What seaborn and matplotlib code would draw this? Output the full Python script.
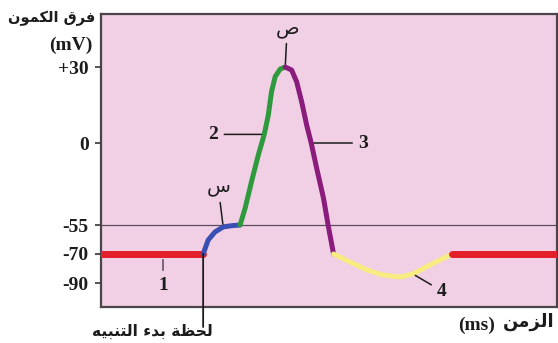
import numpy as np
import seaborn as sns
import matplotlib.pyplot as plt

# action potential (time in ms, potential in mV)
rest1_t = [0.0, 2.24]
rest1_v = [-70, -70]
depol_t = [2.24, 2.35, 2.50, 2.68, 2.85, 3.05]          # س : threshold
depol_v = [-70, -62.8, -58.6, -56.0, -55.4, -55.0]
rise_t = [3.05, 3.16, 3.30, 3.45, 3.58, 3.67, 3.74, 3.82, 3.93, 4.04]   # 2
rise_v = [-55, -43.8, -26.0, -8.0, 3.4, 11.1, 20.3, 26.2, 29.2, 30.0]
fall_t = [4.04, 4.18, 4.29, 4.40, 4.51, 4.61, 4.73, 4.88, 4.98, 5.10]   # 3
fall_v = [30.0, 28.8, 24.2, 16.3, 7.1, 0.0, -17.0, -37.1, -55.0, -70.0]
hyper_t = [5.10, 5.46, 5.83, 6.18, 6.56, 6.84, 7.21, 7.70]  # 4
hyper_v = [-70, -75.5, -81.0, -84.5, -85.9, -83.8, -77.6, -70]
rest2_t = [7.70, 10.0]
rest2_v = [-70, -70]

threshold = -55
ytick_vals = [30, 0, -55, -70, -90]
ytick_labels = ['+30', '0', '-55', '-70', '-90']

# the drawing is schematic: the mV axis is stretched piecewise
MV_NODES = [-200, -106.6, -90, -70, -55, 0, 30, 50.9, 100]
PX_NODES = [-135.4, 0, 24, 53, 82, 164, 240, 293, 417.4]


def fwd(v):
    return np.interp(v, MV_NODES, PX_NODES)


def inv(p):
    return np.interp(p, PX_NODES, MV_NODES)


# minimal arabic shaping (matplotlib does no joining / rtl on its own)
FORMS = {
    'ا': (0xFE8D, False), 'ب': (0xFE8F, True), 'ة': (0xFE93, False),
    'ت': (0xFE95, True), 'ح': (0xFEA1, True), 'د': (0xFEA9, False),
    'ر': (0xFEAD, False), 'ز': (0xFEAF, False), 'س': (0xFEB1, True),
    'ص': (0xFEB9, True), 'ظ': (0xFEC5, True), 'ف': (0xFED1, True),
    'ق': (0xFED5, True), 'ك': (0xFED9, True), 'ل': (0xFEDD, True),
    'م': (0xFEE1, True), 'ن': (0xFEE5, True), 'ه': (0xFEE9, True),
    'و': (0xFEED, False), 'ي': (0xFEF1, True),
}


def rtl(s):
    out = []
    for i, ch in enumerate(s):
        if ch not in FORMS:
            out.append(ch)
            continue
        base, dual = FORMS[ch]
        prev = s[i - 1] if i > 0 else ''
        nxt = s[i + 1] if i + 1 < len(s) else ''
        jp = prev in FORMS and FORMS[prev][1]
        jn = dual and nxt in FORMS
        off = 3 if (jp and jn) else 1 if jp else 2 if jn else 0
        out.append(chr(base + off))
    return ''.join(reversed(out))


sns.set_style('white')
plt.rcParams['font.family'] = ['DejaVu Sans']
serif = dict(family='Liberation Serif', weight='bold')
ink = '#1c1c1c'

fig = plt.figure(figsize=(5.58, 3.43), dpi=100)
ax = fig.add_axes([101 / 558, 36 / 343, 456 / 558, 293 / 343])
ax.set_facecolor('#f1d0e5')
ax.set_yscale('function', functions=(fwd, inv))

ax.axhline(threshold, color='#5b4b5e', lw=0.9, zorder=1)

segments = [
    (rest1_t, rest1_v, '#e3202a', 5.0),
    (depol_t, depol_v, '#3a4fb3', 3.6),
    (rise_t, rise_v, '#2f9a3d', 3.6),
    (fall_t, fall_v, '#8a1c7c', 3.6),
    (hyper_t, hyper_v, '#f6ec82', 3.6),
    (rest2_t, rest2_v, '#e3202a', 5.0),
]
for t, v, c, w in segments:
    sns.lineplot(x=t, y=v, color=c, lw=w, sort=False, ax=ax,
                 solid_capstyle='round', solid_joinstyle='round', zorder=3)

ax.set_xlim(0, 10)
ax.set_ylim(-106.6, 50.9)
ax.set_xticks([])
ax.set_yticks(ytick_vals)
ax.set_yticklabels(ytick_labels, fontsize=14, color=ink, **serif)
ax.tick_params(axis='y', length=4, width=1.2, color='#333333', pad=5, left=True)
ax.set_xlabel('')
ax.set_ylabel('')
for side in ['left', 'right', 'top', 'bottom']:
    ax.spines[side].set_color('#4a454a')
    ax.spines[side].set_linewidth(1.6)

# labels with leader lines
lead = dict(arrowstyle='-', color=ink, lw=1.1, shrinkB=2)
ax.annotate(rtl('ص'), xy=(rise_t[-1], rise_v[-1]), xytext=(2, 39),
            textcoords='offset pixels', ha='center', va='center',
            fontsize=14, color=ink, arrowprops=lead)
ax.annotate(rtl('س'), xy=(depol_t[3], depol_v[3]), xytext=(-5, 40),
            textcoords='offset pixels', ha='center', va='center',
            fontsize=14, color=ink, arrowprops=lead)
ax.annotate('2', xy=(rise_t[4], rise_v[4]), xytext=(-51, 0),
            textcoords='offset pixels', ha='center', va='center',
            fontsize=14, color=ink, arrowprops=lead, **serif)
ax.annotate('3', xy=(fall_t[5], fall_v[5]), xytext=(52, 0),
            textcoords='offset pixels', ha='center', va='center',
            fontsize=14, color=ink, arrowprops=lead, **serif)
ax.annotate('1', xy=(1.36, rest1_v[0]), xytext=(0, -31),
            textcoords='offset pixels', ha='center', va='center',
            fontsize=14, color=ink,
            arrowprops=dict(lead, color='#5b4b5e', shrinkB=4), **serif)
ax.annotate('4', xy=(hyper_t[5], hyper_v[5]), xytext=(29, -17),
            textcoords='offset pixels', ha='center', va='center',
            fontsize=14, color=ink, arrowprops=lead, **serif)

# stimulus moment
ax.annotate('', xy=(depol_t[0], depol_v[0]), xytext=(0, -73),
            textcoords='offset pixels', annotation_clip=False,
            arrowprops=dict(arrowstyle='-', color=ink, lw=1.3,
                            shrinkA=0, shrinkB=0))
ax.annotate(rtl('لحظة بدء التنبيه'), xy=(depol_t[0], depol_v[0]),
            xytext=(-51, -77), textcoords='offset pixels',
            ha='center', va='center', fontsize=11.2, weight='bold', color=ink,
            annotation_clip=False)

# axis titles
fig.text(95 / 558, 1 - 18 / 343, rtl('فرق الكمون'), ha='right', va='center',
         fontsize=10.5, weight='bold', color=ink)
fig.text(93 / 558, 1 - 45 / 343, '(mV)', ha='right', va='center',
         fontsize=14, color=ink, **serif)
fig.text(555 / 558, 1 - 322 / 343, rtl('الزمن'), ha='right', va='center',
         fontsize=13, weight='bold', color=ink)
fig.text(477 / 558, 1 - 325 / 343, '(ms)', ha='center', va='center',
         fontsize=14, color=ink, **serif)

fig.savefig('out.png', dpi=100, facecolor='white')
